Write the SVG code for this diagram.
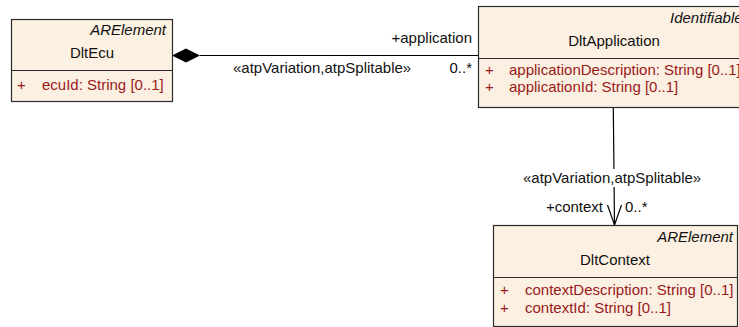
<svg xmlns="http://www.w3.org/2000/svg" width="739" height="327" viewBox="0 0 739 327">
<style>
.box{fill:#FBF0E2;stroke:#2b2b2b;stroke-width:1.2}
.div{stroke:#2b2b2b;stroke-width:1.2}
text{font-family:"Liberation Sans",Arial,sans-serif;font-size:15px;fill:#111}
.st{font-style:italic;text-anchor:end}
.nm{text-anchor:middle}
.at{fill:#9A1A1A}
.edge{stroke:#000;stroke-width:1.2;fill:none}
</style>
<rect width="739" height="327" fill="#fff"/>
<g id="connectors">
<line class="edge" x1="200" y1="55.5" x2="478" y2="55.5"/>
<polygon points="172,55.5 186,48.5 200,55.5 186,62.5" fill="#000"/>
<text x="472" y="43" text-anchor="end">+application</text>
<text x="233" y="73">«atpVariation,atpSplitable»</text>
<text x="472" y="73" text-anchor="end">0..*</text>
<line class="edge" x1="613.3" y1="107" x2="614.5" y2="225"/>
<polyline class="edge" points="607.5,205 614.5,225 621.5,205"/>
<rect x="522" y="169" width="186" height="18" fill="#fff"/>
<text x="523" y="183">«atpVariation,atpSplitable»</text>
<text x="603" y="212" text-anchor="end">+context</text>
<text x="625" y="212">0..*</text>
</g>
<g id="DltEcu">
<rect class="box" x="11.5" y="19.5" width="161" height="82"/>
<line class="div" x1="11.5" y1="70.5" x2="172.5" y2="70.5"/>
<text class="st" x="166" y="35">ARElement</text>
<text class="nm" x="92" y="58">DltEcu</text>
<text class="at" x="17" y="90">+</text>
<text class="at" x="42" y="90">ecuId: String [0..1]</text>
</g>
<g id="DltApplication">
<rect class="box" x="478.5" y="6.5" width="272" height="101"/>
<line class="div" x1="478.5" y1="58.5" x2="750" y2="58.5"/>
<text x="670" y="23" font-style="italic">Identifiable</text>
<text class="nm" x="614" y="46">DltApplication</text>
<text class="at" x="485" y="75">+</text>
<text class="at" x="509" y="75">applicationDescription: String [0..1]</text>
<text class="at" x="485" y="92">+</text>
<text class="at" x="509" y="92">applicationId: String [0..1]</text>
</g>
<g id="DltContext">
<rect class="box" x="493.5" y="225.5" width="244" height="101"/>
<line class="div" x1="493.5" y1="277.5" x2="737.5" y2="277.5"/>
<text class="st" x="733" y="242">ARElement</text>
<text class="nm" x="615" y="265">DltContext</text>
<text class="at" x="500" y="295">+</text>
<text class="at" x="525" y="295">contextDescription: String [0..1]</text>
<text class="at" x="500" y="313">+</text>
<text class="at" x="525" y="313">contextId: String [0..1]</text>
</g>
</svg>
